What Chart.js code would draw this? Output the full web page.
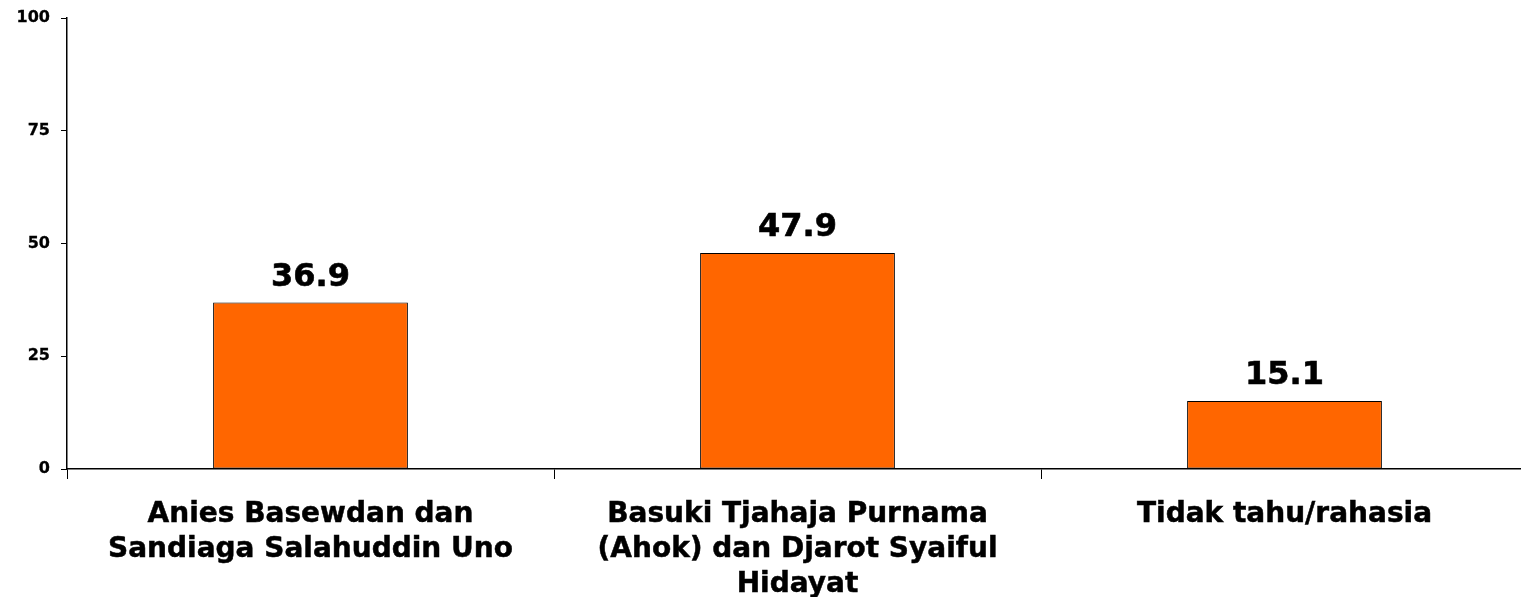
<!DOCTYPE html>
<html>
<head>
<meta charset="utf-8">
<script src="https://cdn.jsdelivr.net/npm/chart.js@4"></script>
<style>
  html, body { margin: 0; padding: 0; background: #fff; overflow: hidden; }
  #wrap { width: 1528px; height: 597px; }
</style>
</head>
<body>
<div id="wrap"><canvas id="myChart"></canvas></div>
<script>
const categories = [
  ['Anies Basewdan dan', 'Sandiaga Salahuddin Uno'],
  ['Basuki Tjahaja Purnama', '(Ahok) dan Djarot Syaiful', 'Hidayat'],
  ['Tidak tahu/rahasia']
];
const values = [36.9, 47.9, 15.1];
const yTicks = [0, 25, 50, 75, 100];

const valueLabels = {
  id: 'valueLabels',
  afterDatasetsDraw(chart) {
    const ctx = chart.ctx;
    const meta = chart.getDatasetMeta(0);
    ctx.save();
    ctx.font = 'bold 32px "DejaVu Sans", Verdana, sans-serif';
    ctx.fillStyle = '#000';
    ctx.strokeStyle = '#000';
    ctx.lineWidth = 0.6;
    ctx.textAlign = 'center';
    ctx.textBaseline = 'alphabetic';
    meta.data.forEach((bar, i) => {
      const t = values[i].toFixed(1);
      ctx.fillText(t, bar.x, bar.y - 17);
      ctx.strokeText(t, bar.x, bar.y - 17);
    });
    ctx.restore();
  }
};

new Chart(document.getElementById('myChart'), {
  type: 'bar',
  data: {
    labels: categories,
    datasets: [{
      data: values,
      backgroundColor: '#FF6600',
      borderColor: '#000',
      borderWidth: 1,
      borderSkipped: false,
      barPercentage: 0.4,
      categoryPercentage: 1
    }]
  },
  options: {
    responsive: true,
    maintainAspectRatio: false,
    animation: false,
    layout: { padding: { top: 18, right: 0, left: 0, bottom: 0 } },
    plugins: { legend: { display: false }, tooltip: { enabled: false } },
    scales: {
      x: {
        grid: { display: true, drawOnChartArea: false, offset: true, tickLength: 10, color: '#000' },
        border: { color: '#000', width: 1.5 },
        ticks: {
          color: '#000',
          padding: 18,
          maxRotation: 0,
          autoSkip: false,
          textStrokeColor: '#000',
          textStrokeWidth: 0.5,
          font: { family: '"DejaVu Sans", Verdana, sans-serif', size: 28, weight: 'bold', lineHeight: 1.25 }
        },
        afterFit(scale) { scale.height = 128; }
      },
      y: {
        min: 0,
        max: 100,
        afterBuildTicks(scale) { scale.ticks = yTicks.map(v => ({ value: v })); },
        grid: { display: true, drawOnChartArea: false, tickLength: 6, color: '#000' },
        border: { color: '#000', width: 1.5 },
        ticks: {
          color: '#000',
          padding: 11,
          textStrokeColor: '#000',
          textStrokeWidth: 0.3,
          font: { family: '"DejaVu Sans", Verdana, sans-serif', size: 16, weight: 'bold' }
        },
        afterFit(scale) {
          scale.width = 67;
          scale.paddingTop = 0;
          scale.paddingBottom = 0;
        }
      }
    }
  },
  plugins: [valueLabels]
});
</script>
</body>
</html>
